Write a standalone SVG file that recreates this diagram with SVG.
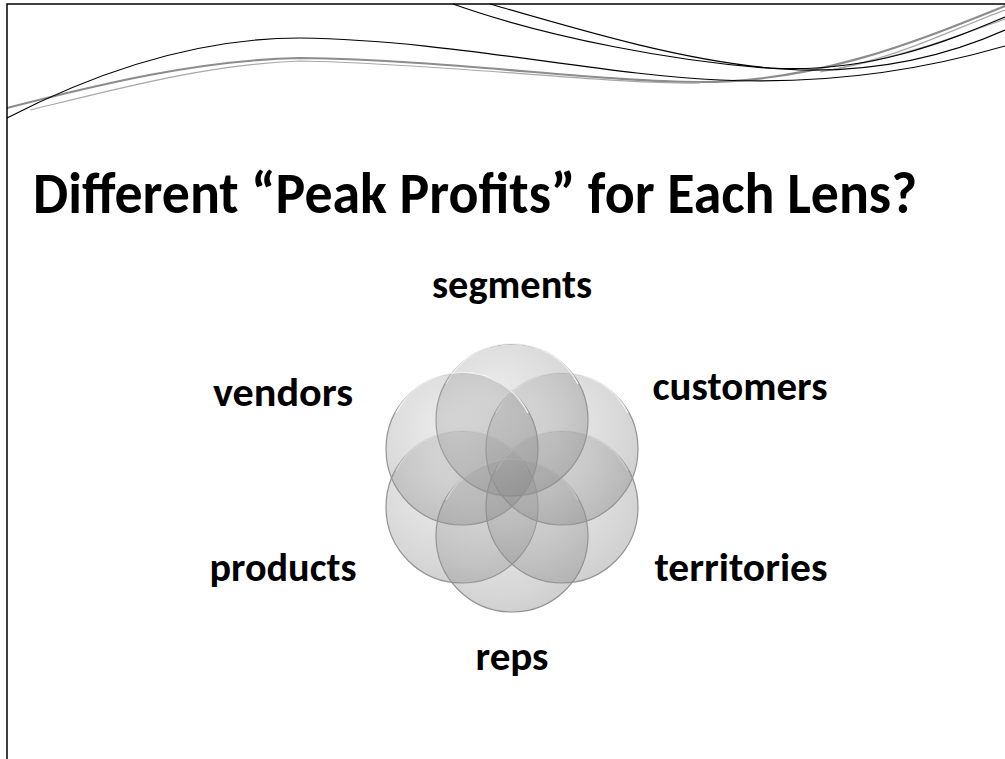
<svg xmlns="http://www.w3.org/2000/svg" width="1005" height="759" viewBox="0 0 1005 759">
  <defs>
    <style>
      .frame { fill: none; stroke: #000; stroke-width: 1.5; }
      .wave { fill: none; stroke: #000; stroke-width: 1.2; }
      .band { fill: none; stroke: #8c8c8c; stroke-width: 2.2; }
      .band2 { fill: none; stroke: #a8a8a8; stroke-width: 1.2; }
      .title { font-family: "Carlito", "Calibri", "Open Sans", sans-serif; font-weight: bold; font-size: 58px; fill: #000; }
      .label { font-family: "Carlito", "Calibri", "Open Sans", sans-serif; font-weight: bold; font-size: 41px; fill: #000; text-anchor: middle; }
      .lens { fill: url(#lensFill); stroke: #939393; stroke-width: 1.2; }
      .rim { fill: none; stroke: #ffffff; stroke-opacity: 0.8; stroke-width: 1.5; }
    </style>
    <radialGradient id="lensFill" cx="0.4" cy="0.35" r="0.7">
      <stop offset="0" stop-color="#bcbcbc" stop-opacity="0.3"/>
      <stop offset="1" stop-color="#808080" stop-opacity="0.38"/>
    </radialGradient>
    <g id="lens">
      <circle class="lens" r="76"/>
      <path class="rim" d="M -66,-36 A 74 74 0 0 1 66,-36"/>
    </g>
  </defs>

  <rect width="1005" height="759" fill="#fff"/>

  <!-- decorative header waves -->
  <g id="header">
    <path class="band" d="M7,108 C 100,84 200,60 300,58 C 450,60 600,82 700,82 C 820,82 920,40 1005,6"/>
    <path class="band2" d="M30,110 C 120,88 210,64 300,61 C 450,64 600,84 700,83"/>
    <path class="band2" d="M820,72 C 900,58 950,30 1005,10"/>
    <path class="band2" d="M830,70 C 910,55 960,35 1005,19"/>
    <path class="wave" d="M7,118 C 100,70 200,38 300,38 C 450,40 600,75 720,80 C 850,86 950,62 1005,46"/>
    <path class="wave" d="M453,4 C 540,35 680,65 800,70 C 890,72 960,50 1005,30"/>
    <path class="wave" d="M490,4 C 580,30 680,60 770,68 C 870,74 950,40 1005,17"/>
  </g>

  <!-- slide frame -->
  <path class="frame" d="M7,759 V4 H1005"/>

  <g id="title">
    <text class="title" x="33" y="213" textLength="884" lengthAdjust="spacingAndGlyphs">Different “Peak Profits” for Each Lens?</text>
  </g>

  <!-- six overlapping lenses -->
  <g id="lenses">
    <use href="#lens" x="462" y="507"/>
    <use href="#lens" x="512" y="536"/>
    <use href="#lens" x="562" y="507"/>
    <use href="#lens" x="562" y="449"/>
    <use href="#lens" x="512" y="420"/>
    <use href="#lens" x="462" y="449"/>
  </g>

  <g id="segments"><text class="label" x="512" y="298" textLength="160" lengthAdjust="spacingAndGlyphs">segments</text></g>
  <g id="vendors"><text class="label" x="283" y="406" textLength="140" lengthAdjust="spacingAndGlyphs">vendors</text></g>
  <g id="customers"><text class="label" x="740" y="400" textLength="175" lengthAdjust="spacingAndGlyphs">customers</text></g>
  <g id="products"><text class="label" x="283" y="581" textLength="147" lengthAdjust="spacingAndGlyphs">products</text></g>
  <g id="territories"><text class="label" x="741" y="581" textLength="173" lengthAdjust="spacingAndGlyphs">territories</text></g>
  <g id="reps"><text class="label" x="512" y="670" textLength="73" lengthAdjust="spacingAndGlyphs">reps</text></g>
</svg>
